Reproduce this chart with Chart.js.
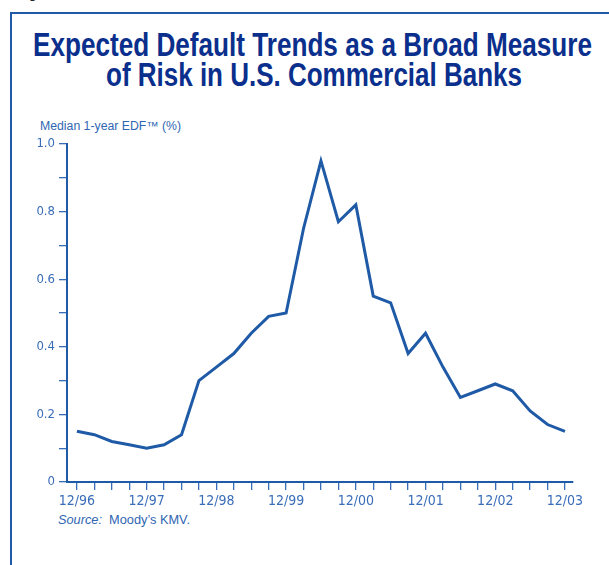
<!DOCTYPE html>
<html>
<head>
<meta charset="utf-8">
<script src="https://cdn.jsdelivr.net/npm/chart.js@4.4.1/dist/chart.umd.min.js"></script>
<style>
  html, body { margin: 0; padding: 0; background: #fff; }
  body { width: 609px; height: 565px; position: relative; overflow: hidden; font-family: "Liberation Sans", Arial, sans-serif; }
  #frame { position: absolute; left: 10px; top: 12px; width: 620px; height: 600px; border-left: 2px solid #1f5aa6; border-top: 2px solid #1f5aa6; }
  .fit { position: absolute; white-space: nowrap; }
  .fit span { display: inline-block; transform-origin: 0 50%; }
  #fig { left: 16px; top: -15px; font-size: 15px; line-height: 15px; color: #222; }
  .title { color: #0b2f8c; font-weight: bold; font-size: 33px; line-height: 33px; }
  #t1 { top: 28px; }
  #t2 { top: 58px; }
  #ylab { left: 40px; top: 120px; font-size: 12px; line-height: 12px; color: #2f66b3; }
  #source { left: 58px; top: 513px; font-size: 13px; line-height: 13px; color: #2f66b3; }
  canvas { position: absolute; left: 0; top: 0; }
</style>
</head>
<body>
<div id="fig" class="fit">Figure 3</div>
<div id="frame"></div>
<div id="t1" class="fit title" data-x0="33" data-x1="592"><span>Expected Default Trends as a Broad Measure</span></div>
<div id="t2" class="fit title" data-x0="106" data-x1="522"><span>of Risk in U.S. Commercial Banks</span></div>
<div id="ylab" class="fit" data-x0="40" data-x1="181"><span>Median 1-year EDF™ (%)</span></div>
<div id="source" class="fit" data-x0="58" data-x1="190"><span><i>Source:</i>&nbsp; Moody’s KMV.</span></div>
<canvas id="chart" width="609" height="565"></canvas>
<script>
// quarterly, 12/96 .. 12/03
const quarters = [
  "12/96", "3/97", "6/97", "9/97", "12/97", "3/98", "6/98", "9/98",
  "12/98", "3/99", "6/99", "9/99", "12/99", "3/00", "6/00", "9/00",
  "12/00", "3/01", "6/01", "9/01", "12/01", "3/02", "6/02", "9/02",
  "12/02", "3/03", "6/03", "9/03", "12/03"
];
const edf = [
  0.15, 0.14, 0.12, 0.11, 0.10, 0.11, 0.14, 0.30,
  0.34, 0.38, 0.44, 0.49, 0.50, 0.75, 0.95, 0.77,
  0.82, 0.55, 0.53, 0.38, 0.44, 0.34, 0.25, 0.27,
  0.29, 0.27, 0.21, 0.17, 0.15
];
const yTickLabels = { 0: "0", 0.2: "0.2", 0.4: "0.4", 0.6: "0.6", 0.8: "0.8", 1: "1.0" };

// squeeze the html texts to the condensed widths of the original
document.querySelectorAll(".fit[data-x0]").forEach((el) => {
  const span = el.querySelector("span");
  const x0 = +el.dataset.x0, x1 = +el.dataset.x1;
  const w = span.getBoundingClientRect().width;
  el.style.left = x0 + "px";
  span.style.transform = `scaleX(${(x1 - x0) / w})`;
});

const blue = "#1f5aa6";
const tickBlue = "#3a6db8";
const tickFamily = "'DejaVu Sans Condensed', 'Liberation Sans', sans-serif";

new Chart(document.getElementById("chart"), {
  type: "line",
  data: {
    datasets: [{
      data: edf.map((v, i) => ({ x: i, y: v })),
      borderColor: blue,
      borderWidth: 3,
      pointRadius: 0,
      tension: 0,
      borderJoinStyle: "miter",
    }],
  },
  options: {
    responsive: false,
    animation: false,
    layout: { padding: { left: 0, top: 144, right: 36, bottom: 53 } },
    plugins: { legend: { display: false }, tooltip: { enabled: false } },
    scales: {
      x: {
        type: "linear",
        min: -0.57,
        max: 28.46,
        afterFit: (s) => { s.height = 30; },
        border: { color: blue, width: 2 },
        grid: { drawOnChartArea: false, drawTicks: true, tickLength: 8, color: tickBlue, lineWidth: 1.3 },
        ticks: {
          stepSize: 1,
          includeBounds: false,
          autoSkip: false,
          maxRotation: 0,
          padding: 3,
          color: tickBlue,
          font: { family: tickFamily, size: 14 },
          callback: (v) => {
            const q = quarters[Math.round(v)];
            return q && q.startsWith("12/") ? q : "";
          },
        },
      },
      y: {
        min: 0,
        max: 1,
        afterFit: (s) => { s.width = 67; },
        border: { color: blue, width: 2 },
        grid: { drawOnChartArea: false, drawTicks: true, tickLength: 8, color: tickBlue, lineWidth: 1.3 },
        ticks: {
          stepSize: 0.1,
          autoSkip: false,
          padding: 4,
          color: tickBlue,
          font: { family: tickFamily, size: 13 },
          callback: (v) => {
            const k = Math.round(v * 10) / 10;
            return yTickLabels[k] !== undefined ? yTickLabels[k] : "";
          },
        },
      },
    },
  },
});
</script>
</body>
</html>
